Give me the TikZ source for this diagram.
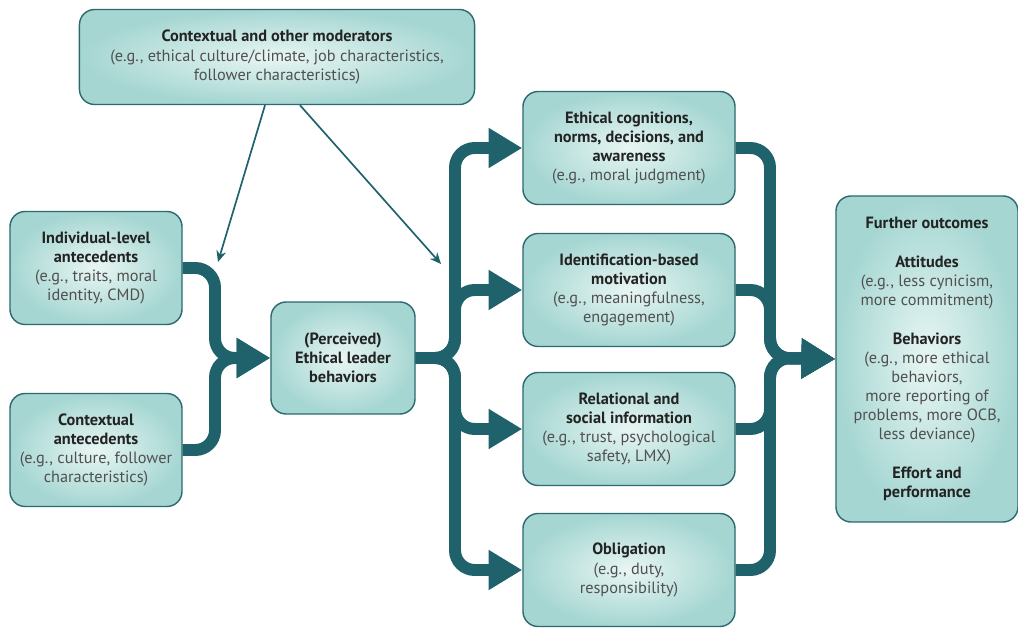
\documentclass[tikz,border=0pt]{standalone}
\usepackage{fontspec}
\setmainfont{PT Sans}
\usetikzlibrary{arrows.meta,calc,positioning}
\definecolor{FlowTeal}{RGB}{31,98,108}
\definecolor{BoxEdge}{RGB}{45,105,110}
\definecolor{BoxInner}{RGB}{232,246,243}
\definecolor{BoxOuter}{RGB}{165,214,210}
\definecolor{ExampleGrey}{RGB}{80,80,80}
\definecolor{HeadDark}{RGB}{35,35,35}

\tikzset{
  box/.style={draw=BoxEdge, line width=1pt, rounded corners=0.38cm,
    inner color=BoxInner, outer color=BoxOuter, align=center,
    font=\fontsize{11.6}{13.6}\selectfont, text=HeadDark, inner sep=1pt},
  bus/.style={draw=FlowTeal, line width=8.5pt, rounded corners=14pt,
    -{Triangle[width=27pt,length=24pt]}},
  thinarrow/.style={draw=FlowTeal, line width=1.2pt,
    -{Stealth[width=7pt,length=8pt]}}
}
\newcommand{\eg}[1]{{\color{ExampleGrey}#1}}

\begin{document}
\begin{tikzpicture}[x=0.025cm, y=-0.025cm]
    \useasboundingbox (0,0) rectangle (1018,628);
    % Moderators on top
    \node[box, minimum width=9.875cm, minimum height=2.375cm] (mod) at (277,57)
      {\textbf{Contextual and other moderators}\\
       \eg{(e.g., ethical culture/climate, job characteristics,}\\
       \eg{follower characteristics)}};
    % Antecedents
    \node[box, minimum width=4.3cm, minimum height=2.825cm] (ind) at (96,268)
      {\textbf{Individual-level}\\ \textbf{antecedents}\\
       \eg{(e.g., traits, moral}\\ \eg{identity, CMD)}};
    \node[box, minimum width=4.3cm, minimum height=2.825cm] (ctx) at (96,450)
      {\textbf{Contextual}\\ \textbf{antecedents}\\
       \eg{(e.g., culture, follower}\\ \eg{characteristics)}};
    % Leader behaviors
    \node[box, minimum width=3.6cm, minimum height=2.8cm] (elb) at (343,358)
      {\textbf{(Perceived)}\\ \textbf{Ethical leader}\\ \textbf{behaviors}};
    % Mediating mechanisms
    \node[box, minimum width=5.3cm, minimum height=2.825cm] (cog) at (629,148)
      {\textbf{Ethical cognitions,}\\ \textbf{norms, decisions, and}\\
       \textbf{awareness}\\ \eg{(e.g., moral judgment)}};
    \node[box, minimum width=5.3cm, minimum height=2.825cm] (idm) at (629,290)
      {\textbf{Identification-based}\\ \textbf{motivation}\\
       \eg{(e.g., meaningfulness,}\\ \eg{engagement)}};
    \node[box, minimum width=5.3cm, minimum height=2.825cm] (rel) at (629,429)
      {\textbf{Relational and}\\ \textbf{social information}\\
       \eg{(e.g., trust, psychological}\\ \eg{safety, LMX)}};
    \node[box, minimum width=5.3cm, minimum height=2.825cm] (obl) at (629,570)
      {\textbf{Obligation}\\ \eg{(e.g., duty,}\\ \eg{responsibility)}};
    % Outcomes
    \node[box, minimum width=4.55cm, minimum height=8.15cm] (out) at (927,359)
      {\textbf{Further outcomes}\\[14pt]
       \textbf{Attitudes}\\ \eg{(e.g., less cynicism,}\\ \eg{more commitment)}\\[14pt]
       \textbf{Behaviors}\\ \eg{(e.g., more ethical}\\ \eg{behaviors,}\\
       \eg{more reporting of}\\ \eg{problems, more OCB,}\\ \eg{less deviance)}\\[14pt]
       \textbf{Effort and}\\ \textbf{performance}};
    % Junction points of the thick flows
    \coordinate (jin) at (215,358);
    \coordinate (lbus) at (455,358);
    \coordinate (jout) at (770,358);
    % Antecedents into leader behaviors
    \draw[bus] (ind.east) -| (jin) -- (elb.west);
    \draw[bus] (ctx.east) -| (jin) -- (elb.west);
    % Leader behaviors out to the four mechanisms
    \foreach \m in {cog, idm, rel, obl} {
        \draw[bus] (elb.east) -| (lbus |- \m.west) -- (\m.west);
    }
    % Mechanisms into further outcomes
    \foreach \m in {cog, idm, rel, obl} {
        \draw[bus] (\m.east) -| (jout) -- (out.west);
    }
    % Moderating arrows
    \coordinate (modl) at (218,262);
    \coordinate (modr) at (441,264);
    \draw[thinarrow] ($(mod.south)+(-12,0)$) -- (modl);
    \draw[thinarrow] ($(mod.south)+(23,0)$) -- (modr);
\end{tikzpicture}
\end{document}
